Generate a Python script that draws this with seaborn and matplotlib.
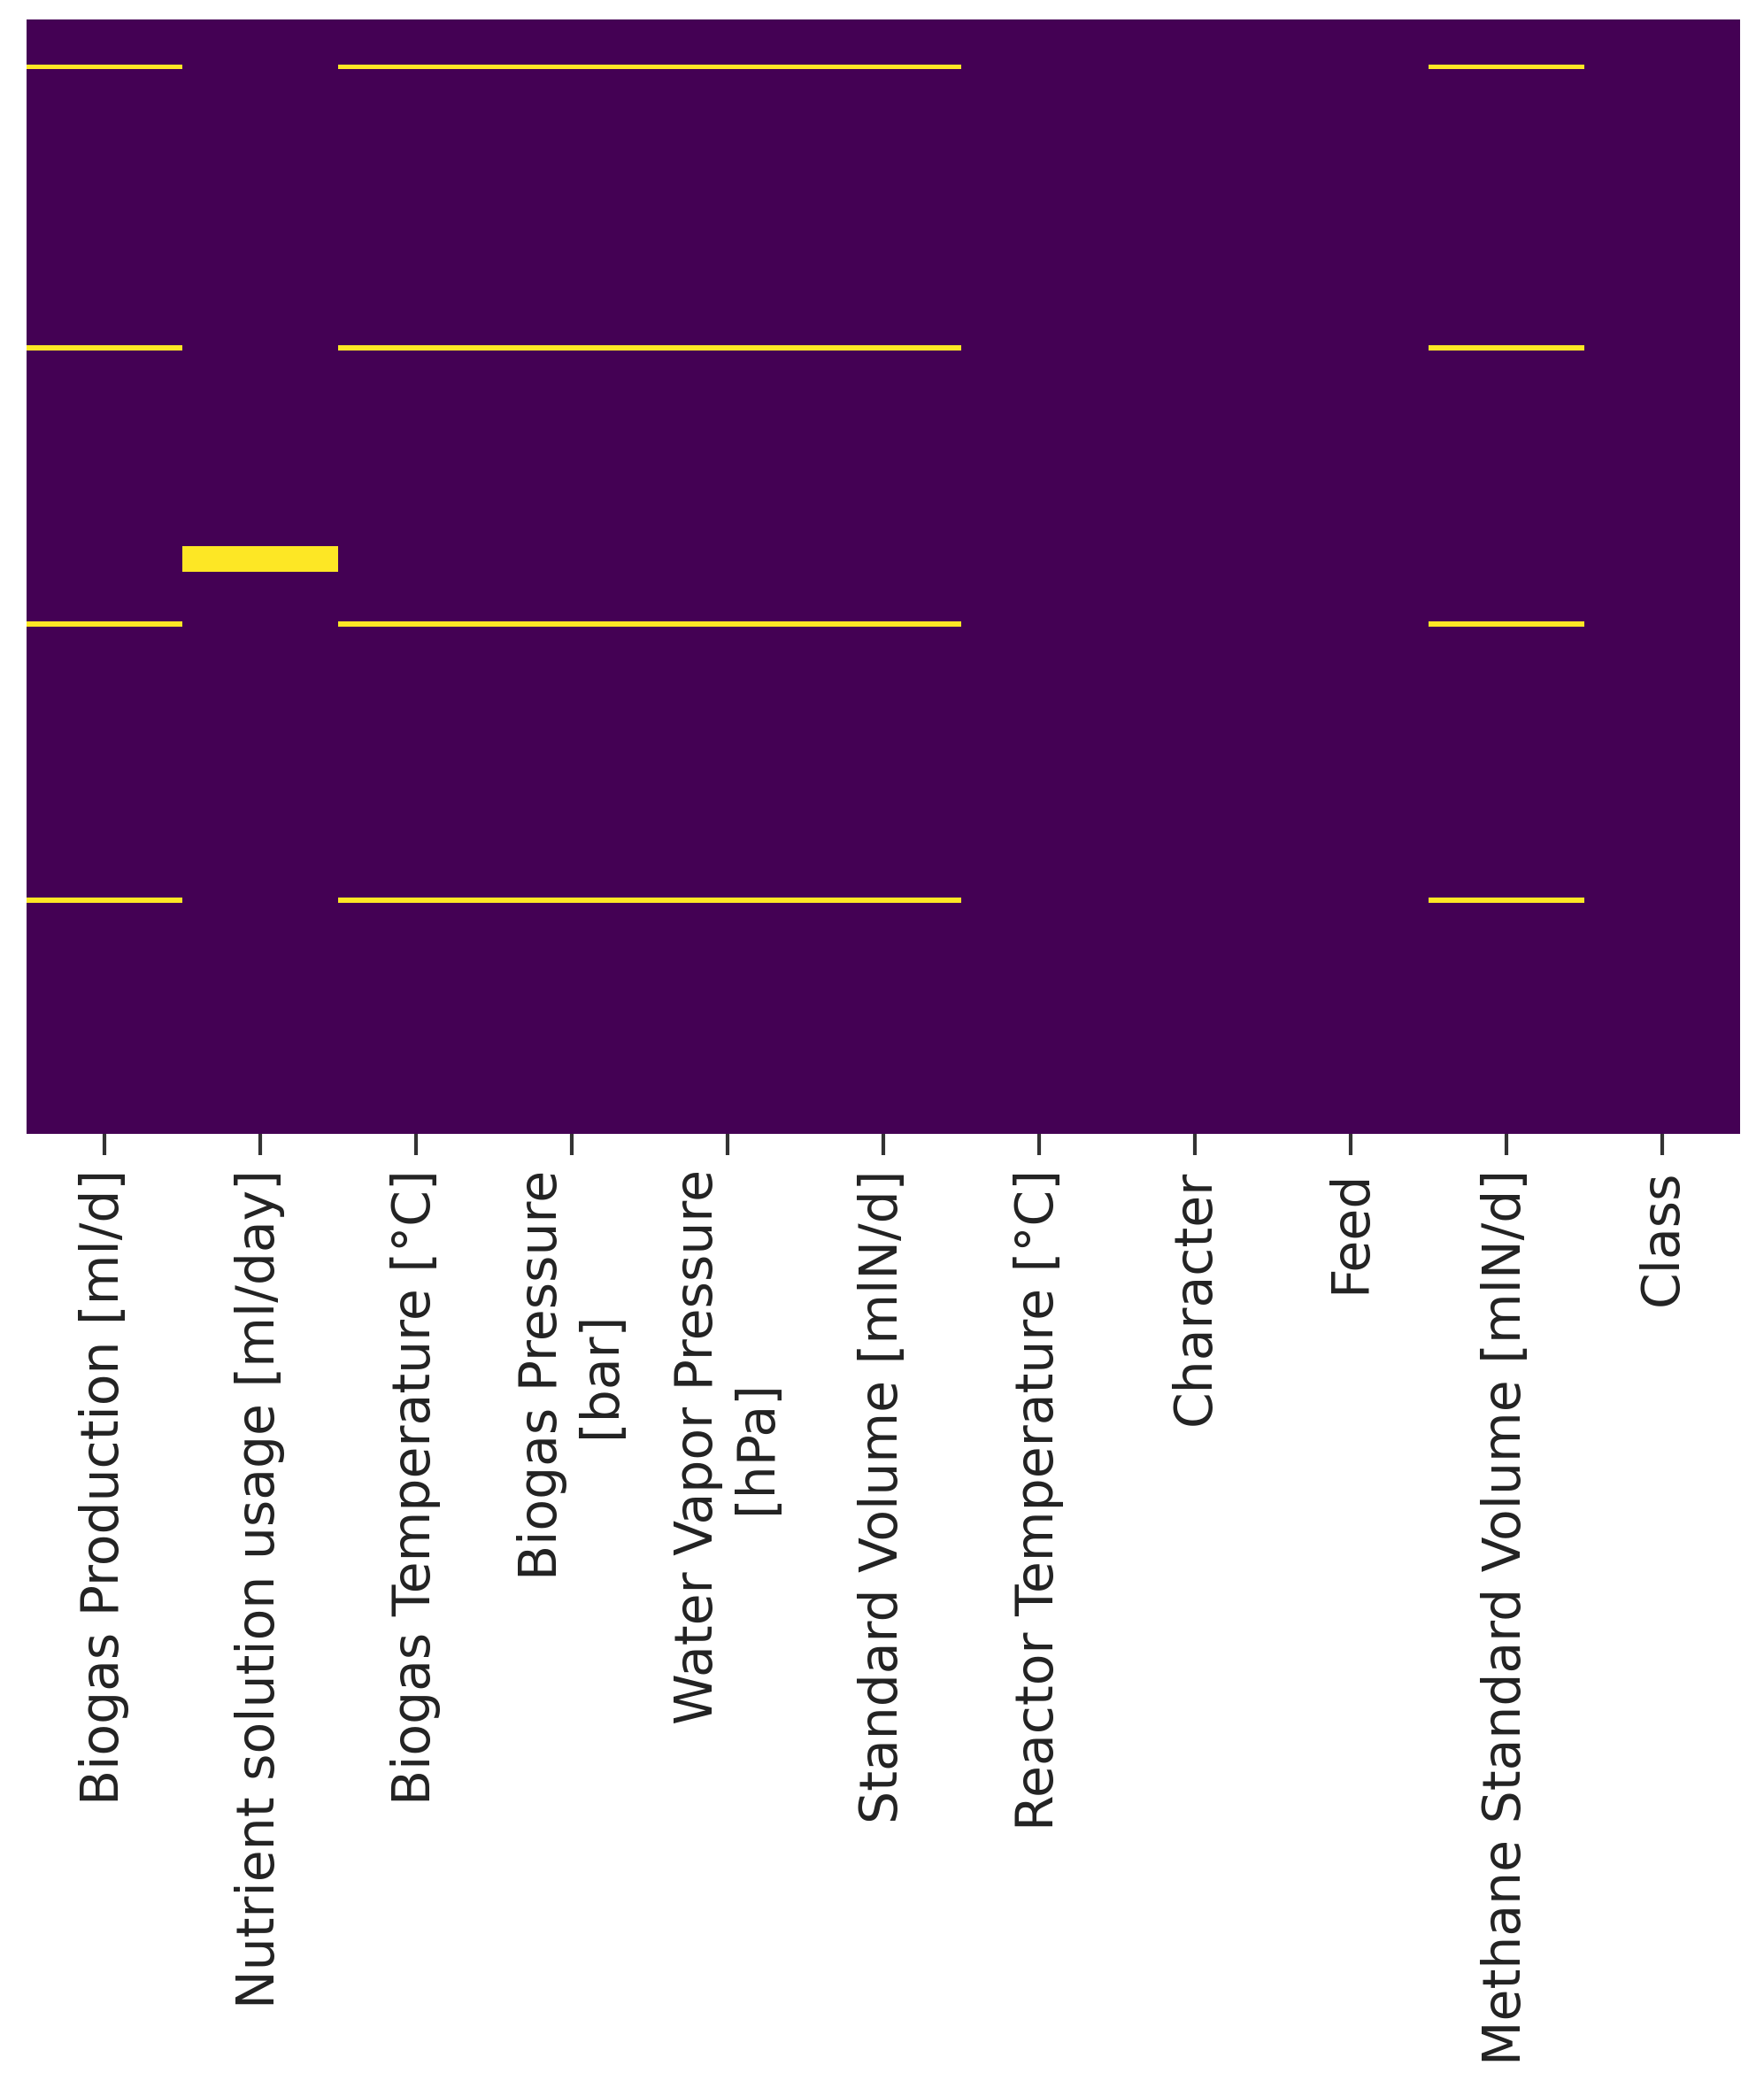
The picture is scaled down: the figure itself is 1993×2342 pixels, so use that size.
import pandas as pd
import matplotlib
matplotlib.use('Agg')
import matplotlib.pyplot as plt
import seaborn as sns

# column names as shown on the x axis (two of them wrapped)
columns = ['Biogas Production [ml/d]',
           'Nutrient solution usage [ml/day]',
           'Biogas Temperature [°C]',
           'Biogas Pressure\n[bar]',
           'Water Vapor Pressure\n[hPa]',
           'Standard Volume [mlN/d]',
           'Reactor Temperature [°C]',
           'Character',
           'Feed',
           'Methane Standard Volume [mlN/d]',
           'Class']

n_rows = 222

# rows with missing values
gas_missing_rows = [9, 65, 120, 175]
gas_missing_cols = ['Biogas Production [ml/d]', 'Biogas Temperature [°C]',
                    'Biogas Pressure\n[bar]', 'Water Vapor Pressure\n[hPa]',
                    'Standard Volume [mlN/d]', 'Methane Standard Volume [mlN/d]']
nutrient_missing_rows = [105, 106, 107, 108, 109]

missing = pd.DataFrame(False, index=range(n_rows), columns=columns)
missing.loc[gas_missing_rows, gas_missing_cols] = True
missing.loc[nutrient_missing_rows, 'Nutrient solution usage [ml/day]'] = True

fig = plt.figure(figsize=(19.93, 23.42), dpi=100)
ax = fig.add_axes([0.01505, 0.4530, 0.9714, 0.5378])
sns.heatmap(missing, cbar=False, yticklabels=False, cmap='viridis', ax=ax)

ax.tick_params(axis='x', length=17, width=3.0, pad=12, labelsize=42.0,
               color='#333333')
plt.setp(ax.get_xticklabels(), rotation=90, color='#222222')

plt.savefig('out.png', dpi=100)
